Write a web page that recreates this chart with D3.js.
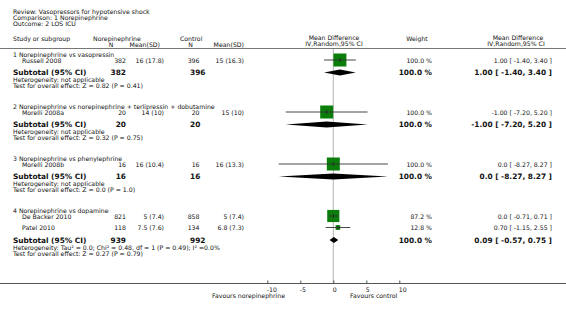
<!DOCTYPE html>
<html>
<head>
<meta charset="utf-8">
<script src="https://cdn.jsdelivr.net/npm/d3@7"></script>
<style>
  body { margin: 0; background: #fff; }
  svg { display: block; font-family: "DejaVu Sans", Verdana, sans-serif; }
  text { fill: #111; }
</style>
</head>
<body>
<svg id="chart" width="566" height="313"></svg>
<script>
// header texts
let titleLines = ["Review:  Vasopressors for hypotensive shock", "Comparison:  1 Norepinephrine", "Outcome:  2 LOS ICU"];

// subgroups
let groupNames = [
  "1 Norepinephrine vs vasopressin",
  "2 Norepinephrine vs norepinephrine + terlipressin + dobutamine",
  "3 Norepinephrine vs phenylephrine",
  "4 Norepinephrine vs dopamine"
];

// studies
let studyNames = ["Russell 2008", "Morelli 2008a", "Morelli 2008b", "De Backer 2010", "Patel 2010"];
let studyGroup = [0, 1, 2, 3, 3];
let expN = [382, 20, 16, 821, 118];
let expMeanSD = ["16 (17.8)", "14 (10)", "16 (10.4)", "5 (7.4)", "7.5 (7.6)"];
let ctlN = [396, 20, 16, 858, 134];
let ctlMeanSD = ["15 (16.3)", "15 (10)", "16 (13.3)", "5 (7.4)", "6.8 (7.3)"];
let studyMD = [1.0, -1.0, 0.0, 0.0, 0.70];
let studyLo = [-1.40, -7.20, -8.27, -0.71, -1.15];
let studyHi = [3.40, 5.20, 8.27, 0.71, 2.55];
let studyWeight = [100.0, 100.0, 100.0, 87.2, 12.8];
let studyCI = ["1.00 [ -1.40, 3.40 ]", "-1.00 [ -7.20, 5.20 ]", "0.0 [ -8.27, 8.27 ]", "0.0 [ -0.71, 0.71 ]", "0.70 [ -1.15, 2.55 ]"];

// subtotals
let subExpN = [382, 20, 16, 939];
let subCtlN = [396, 20, 16, 992];
let subMD = [1.00, -1.00, 0.0, 0.09];
let subLo = [-1.40, -7.20, -8.27, -0.57];
let subHi = [3.40, 5.20, 8.27, 0.75];
let subCI = ["1.00 [ -1.40, 3.40 ]", "-1.00 [ -7.20, 5.20 ]", "0.0 [ -8.27, 8.27 ]", "0.09 [ -0.57, 0.75 ]"];
let subHet = [
  "Heterogeneity: not applicable",
  "Heterogeneity: not applicable",
  "Heterogeneity: not applicable",
  "Heterogeneity: Tau\u00b2 = 0.0; Chi\u00b2 = 0.48, df = 1 (P = 0.49); I\u00b2 =0.0%"
];
let subTest = [
  "Test for overall effect: Z = 0.82 (P = 0.41)",
  "Test for overall effect: Z = 0.32 (P = 0.75)",
  "Test for overall effect: Z = 0.0 (P = 1.0)",
  "Test for overall effect: Z = 0.27 (P = 0.79)"
];

// axis
let axisTicks = [-10, -5, 0, 5, 10];
let axisDomain = [-10, 10];
let favourLeft = "Favours norepinephrine";
let favourRight = "Favours control";

let svg = d3.select("#chart");
let W = 566;
let fs = 6.2, fsBold = 7.4;

let xScale = d3.scaleLinear().domain(axisDomain).range([267.3, 399.3]);
let boxScale = d3.scaleSqrt().domain([0, 100]).range([0, 13]);

function txt(x, y, s, opts) {
  opts = opts || {};
  return svg.append("text")
    .attr("x", x).attr("y", y)
    .attr("dominant-baseline", "central")
    .attr("text-anchor", opts.anchor || "start")
    .style("font-size", (opts.size || fs) + "px")
    .style("font-weight", opts.bold ? "bold" : "normal")
    .text(s);
}

// title block
titleLines.forEach((t, i) => txt(13, 11.5 + i * 6, t));

// column headers
txt(13, 38.5, "Study or subgroup");
txt(93, 38, "Norepinephrine");
txt(111, 44.5, "N", {anchor: "middle"});
txt(160, 44.5, "Mean(SD)", {anchor: "end"});
txt(180, 38, "Control");
txt(190.5, 44.5, "N", {anchor: "middle"});
txt(244, 44.5, "Mean(SD)", {anchor: "end"});
txt(334, 37.5, "Mean Difference", {anchor: "middle"});
txt(334, 43.5, "IV,Random,95% CI", {anchor: "middle"});
txt(417, 38, "Weight", {anchor: "middle"});
txt(518, 37.5, "Mean Difference", {anchor: "middle"});
txt(516, 43.5, "IV,Random,95% CI", {anchor: "middle"});

svg.append("line").attr("x1", 0).attr("x2", W).attr("y1", 48.5).attr("y2", 48.5)
  .attr("stroke", "#777").attr("stroke-width", 1);

// layout rows
let rows = [];
let y = 54.5;
let axisY = 283.5;
groupNames.forEach((g, gi) => {
  rows.push({type: "group", gi: gi, y: y});
  let idx = studyGroup.map((v, i) => v === gi ? i : -1).filter(i => i >= 0);
  let sy = y + 5.5;
  idx.forEach((si, k) => {
    if (k > 0) sy += 11.5;
    rows.push({type: "study", si: si, y: sy});
  });
  let subY = sy + 12.5;
  rows.push({type: "sub", gi: gi, y: subY});
  rows.push({type: "het", gi: gi, y: subY + 7.3});
  rows.push({type: "test", gi: gi, y: subY + 13});
  y = subY + 13 + 21;
});

// zero line
svg.append("line")
  .attr("x1", xScale(0)).attr("x2", xScale(0))
  .attr("y1", 49).attr("y2", axisY)
  .attr("stroke", "#b5b5b5").attr("stroke-width", 1);

rows.forEach(r => {
  if (r.type === "group") {
    txt(13, r.y, groupNames[r.gi]);
  } else if (r.type === "study") {
    let i = r.si;
    txt(22, r.y, studyNames[i]);
    txt(126, r.y, expN[i], {anchor: "end"});
    txt(164, r.y, expMeanSD[i], {anchor: "end"});
    txt(199.5, r.y, ctlN[i], {anchor: "end"});
    txt(244, r.y, ctlMeanSD[i], {anchor: "end"});
    txt(432, r.y, studyWeight[i].toFixed(1) + " %", {anchor: "end"});
    txt(552, r.y, studyCI[i], {anchor: "end"});
    // box
    let s = boxScale(studyWeight[i]);
    svg.append("rect")
      .attr("x", xScale(studyMD[i]) - s / 2).attr("y", r.y - s / 2)
      .attr("width", s).attr("height", s)
      .attr("fill", "#0a7d0a");
    // CI line
    svg.append("line")
      .attr("x1", xScale(studyLo[i])).attr("x2", xScale(studyHi[i]))
      .attr("y1", r.y).attr("y2", r.y)
      .attr("stroke", "#333").attr("stroke-width", 0.9);
    svg.append("line")
      .attr("x1", xScale(studyMD[i])).attr("x2", xScale(studyMD[i]))
      .attr("y1", r.y - 2).attr("y2", r.y + 2)
      .attr("stroke", "#222").attr("stroke-width", 0.8);
  } else if (r.type === "sub") {
    let g = r.gi;
    txt(13, r.y, "Subtotal (95% CI)", {bold: true, size: fsBold});
    txt(126, r.y, subExpN[g], {anchor: "end", bold: true, size: fsBold});
    txt(190, r.y, subCtlN[g], {bold: true, size: fsBold});
    txt(432, r.y, "100.0 %", {anchor: "end", bold: true, size: fsBold});
    txt(552, r.y, subCI[g], {anchor: "end", bold: true, size: fsBold});
    let h = 3;
    let pts = [[xScale(subLo[g]), r.y], [xScale(subMD[g]), r.y - h], [xScale(subHi[g]), r.y], [xScale(subMD[g]), r.y + h]];
    svg.append("path").attr("d", d3.line()(pts) + "Z").attr("fill", "#000");
  } else if (r.type === "het") {
    txt(13, r.y, subHet[r.gi]);
  } else {
    txt(13, r.y, subTest[r.gi]);
  }
});

// bottom axis
svg.append("line").attr("x1", 0).attr("x2", W).attr("y1", axisY).attr("y2", axisY)
  .attr("stroke", "#555").attr("stroke-width", 1);

let axis = d3.axisBottom(xScale).tickValues(axisTicks).tickFormat(d => String(d))
  .tickSizeInner(-3).tickSizeOuter(0).tickPadding(4);
let ax = svg.append("g").attr("transform", "translate(0," + axisY + ")").call(axis);
ax.select(".domain").remove();
ax.selectAll(".tick line").attr("stroke", "#555");
ax.selectAll(".tick text")
  .attr("text-anchor", "start")
  .attr("x", -1)
  .style("font-size", fs + "px")
  .style("font-family", "'DejaVu Sans', Verdana, sans-serif")
  .attr("fill", "#111");

txt(285, 295.5, favourLeft, {anchor: "end"});
txt(350, 295.5, favourRight);
</script>
</body>
</html>
